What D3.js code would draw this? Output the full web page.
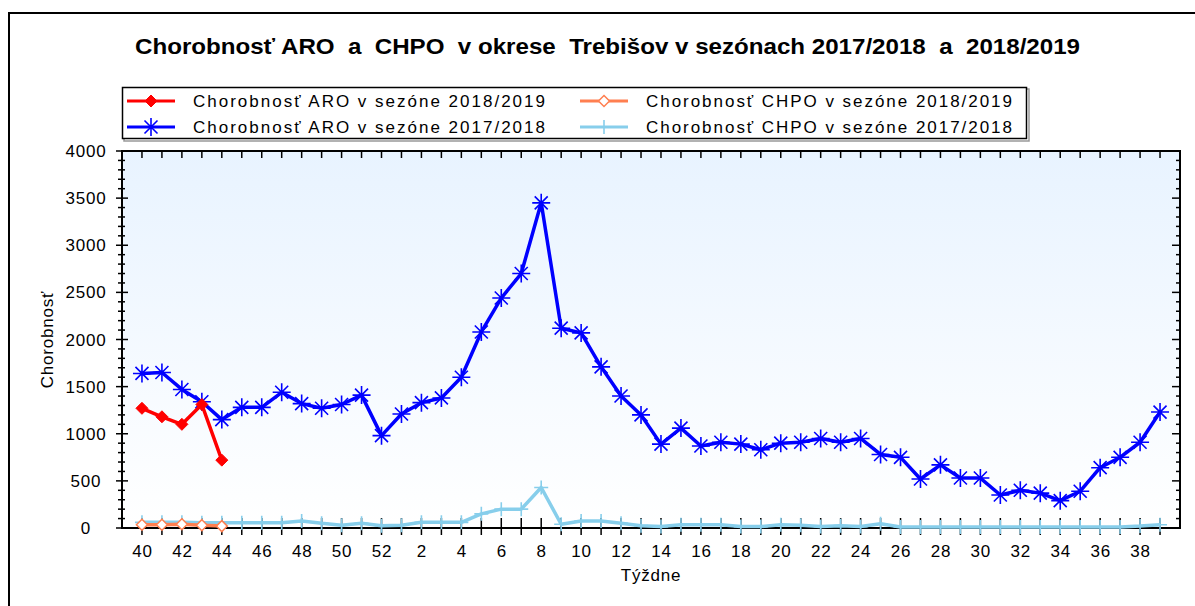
<!DOCTYPE html>
<html><head><meta charset="utf-8">
<script src="https://cdn.jsdelivr.net/npm/d3@7"></script>
<style>html,body{margin:0;padding:0;background:#fff;}svg{display:block;}</style>
</head><body>
<svg id="c" width="1195" height="606"></svg>
<script>
const weeks = [40,41,42,43,44,45,46,47,48,49,50,51,52,1,2,3,4,5,6,7,8,9,10,11,12,13,14,15,16,17,18,19,20,21,22,23,24,25,26,27,28,29,30,31,32,33,34,35,36,37,38,39];
const aro1718 = [1640,1650,1470,1340,1150,1280,1280,1440,1320,1270,1310,1410,980,1210,1330,1380,1600,2080,2440,2700,3450,2120,2070,1710,1400,1200,890,1060,870,910,890,830,900,910,950,910,950,780,750,520,670,530,530,350,400,370,290,390,640,750,910,1230];
const chpo1718 = [60,60,60,55,55,55,55,55,75,50,30,50,25,30,60,60,60,150,200,200,430,40,75,75,50,25,15,35,35,35,15,15,35,30,15,25,15,45,10,10,10,10,10,10,10,10,10,10,10,10,20,35];
const aro1819 = [1270,1180,1100,1310,720];
const chpo1819 = [35,35,40,30,20];
const yTicks = [0,500,1000,1500,2000,2500,3000,3500,4000];
const seriesNames = ["Chorobnosť ARO v sezóne 2018/2019","Chorobnosť CHPO v sezóne 2018/2019","Chorobnosť ARO v sezóne 2017/2018","Chorobnosť CHPO v sezóne 2017/2018"];
const titleText = "Chorobnosť ARO  a  CHPO  v okrese  Trebišov v sezónach 2017/2018  a  2018/2019";

const svg = d3.select("#c");
const FONT = "'Liberation Sans', Arial, sans-serif";
const L = 122, R = 1180, T = 151, B = 528;
const x = d3.scaleLinear().domain([-1, 52]).range([L, R]);
const y = d3.scaleLinear().domain([0, 4000]).range([B, T]);

// outer border
svg.append("rect").attr("x",9).attr("y",13).attr("width",1200).attr("height",600)
  .attr("fill","none").attr("stroke","#000").attr("stroke-width",2);

// title
svg.append("text").attr("x",135).attr("y",54).attr("font-family",FONT).attr("font-weight","bold")
  .attr("font-size",22).attr("textLength",945).attr("lengthAdjust","spacingAndGlyphs")
  .style("white-space","pre").text(titleText);

// gradient
const defs = svg.append("defs");
const g = defs.append("linearGradient").attr("id","bg").attr("x1",0).attr("y1",0).attr("x2",0).attr("y2",1);
g.append("stop").attr("offset","0%").attr("stop-color","#e8f3ff");
g.append("stop").attr("offset","100%").attr("stop-color","#ffffff");
svg.append("rect").attr("x",L).attr("y",T).attr("width",R-L).attr("height",B-T).attr("fill","url(#bg)");

// legend
svg.append("rect").attr("x",124).attr("y",89).attr("width",905).attr("height",52).attr("fill","none").attr("stroke","#999").attr("stroke-width",1.5);
svg.append("rect").attr("x",122.5).attr("y",87.5).attr("width",904).attr("height",51).attr("fill","#fff").attr("stroke","#000").attr("stroke-width",1.5);

// markers
function marker(sel, type, color, cx, cy) {
  if (type === "diamond") {
    sel.append("path").attr("d",`M${cx},${cy-6}L${cx+6},${cy}L${cx},${cy+6}L${cx-6},${cy}Z`).attr("fill",color).attr("stroke",color);
  } else if (type === "odiamond") {
    sel.append("path").attr("d",`M${cx},${cy-5.5}L${cx+5.5},${cy}L${cx},${cy+5.5}L${cx-5.5},${cy}Z`).attr("fill","#fff").attr("stroke",color).attr("stroke-width",1.5);
  } else if (type === "star") {
    const r = 9, d = 6.5;
    sel.append("path").attr("d",`M${cx-r},${cy}H${cx+r}M${cx},${cy-r}V${cy+r}M${cx-d},${cy-d}L${cx+d},${cy+d}M${cx-d},${cy+d}L${cx+d},${cy-d}`)
      .attr("stroke",color).attr("stroke-width",1.6).attr("fill","none");
  } else if (type === "plus") {
    const r = 7;
    sel.append("path").attr("d",`M${cx-r},${cy}H${cx+r}M${cx},${cy-r}V${cy+r}`).attr("stroke",color).attr("stroke-width",1.6).attr("fill","none");
  }
}
const colors = ["#ff0000","#ff7f50","#0000ff","#87ceeb"];
const types = ["diamond","odiamond","star","plus"];
const legPos = [[127,175,101,193,352],[580,628,101,646,366],[127,175,127,193,352],[580,628,127,646,366]];
const lg = svg.append("g");
seriesNames.forEach((n,i) => {
  const p = legPos[i];
  lg.append("line").attr("x1",p[0]).attr("x2",p[1]).attr("y1",p[2]).attr("y2",p[2]).attr("stroke",colors[i]).attr("stroke-width",3);
  marker(lg, types[i], colors[i], (p[0]+p[1])/2, p[2]);
  lg.append("text").attr("x",p[3]).attr("y",p[2]+6).attr("font-family",FONT).attr("font-size",17)
    .attr("textLength",p[4]).attr("lengthAdjust","spacing").text(n);
});

// axes ticks
const ax = svg.append("g").attr("stroke","#000");
d3.range(0, 4001, 100).forEach(v => {
  const major = v % 500 === 0;
  ax.append("line").attr("x1", major ? L-6 : L-4).attr("x2", major ? L+6 : L+3).attr("y1",y(v)).attr("y2",y(v)).attr("stroke-width",1.5);
  ax.append("line").attr("x1", major ? R-8 : R-4).attr("x2", R).attr("y1",y(v)).attr("y2",y(v)).attr("stroke-width",1.5);
});
weeks.forEach((w,i) => {
  ax.append("line").attr("x1",x(i)).attr("x2",x(i)).attr("y1",B-10).attr("y2",B+7).attr("stroke-width",1.5);
  ax.append("line").attr("x1",x(i)).attr("x2",x(i)).attr("y1",T).attr("y2",T+7).attr("stroke-width",1.5);
});
svg.append("rect").attr("x",L).attr("y",T).attr("width",R-L).attr("height",B-T).attr("fill","none").attr("stroke","#000").attr("stroke-width",2);

// tick labels
svg.append("g").selectAll("text").data(yTicks).join("text")
  .attr("x",86).attr("y",d=>y(d)+6).attr("text-anchor","middle").attr("font-family",FONT).attr("font-size",17)
  .attr("letter-spacing",0.8).text(d=>d);
svg.append("g").selectAll("text").data(weeks.map((w,i)=>({w,i})).filter(d=>d.i%2===0)).join("text")
  .attr("x",d=>x(d.i)+0.5).attr("y",557).attr("text-anchor","middle").attr("font-family",FONT).attr("font-size",17)
  .attr("letter-spacing",0.8).text(d=>d.w);

// axis titles
svg.append("text").attr("x",(L+R)/2).attr("y",581).attr("text-anchor","middle").attr("font-family",FONT).attr("font-size",17).attr("letter-spacing",0.8).text("Týždne");
svg.append("text").attr("transform",`translate(53,${(T+B)/2}) rotate(-90)`).attr("text-anchor","middle").attr("font-family",FONT).attr("font-size",17).attr("letter-spacing",0.8).text("Chorobnosť");

// series
const line = d3.line().x((d,i)=>x(i)).y(d=>y(d));
const plot = svg.append("g");
function drawSeries(data, color, type) {
  plot.append("path").datum(data).attr("d",line).attr("fill","none").attr("stroke",color).attr("stroke-width",3.5).attr("stroke-linejoin","round");
  data.forEach((v,i) => marker(plot, type, color, x(i), y(v)));
}
drawSeries(aro1718, colors[2], "star");
drawSeries(chpo1718, colors[3], "plus");
drawSeries(aro1819, colors[0], "diamond");
drawSeries(chpo1819, colors[1], "odiamond");
</script>
</body></html>
